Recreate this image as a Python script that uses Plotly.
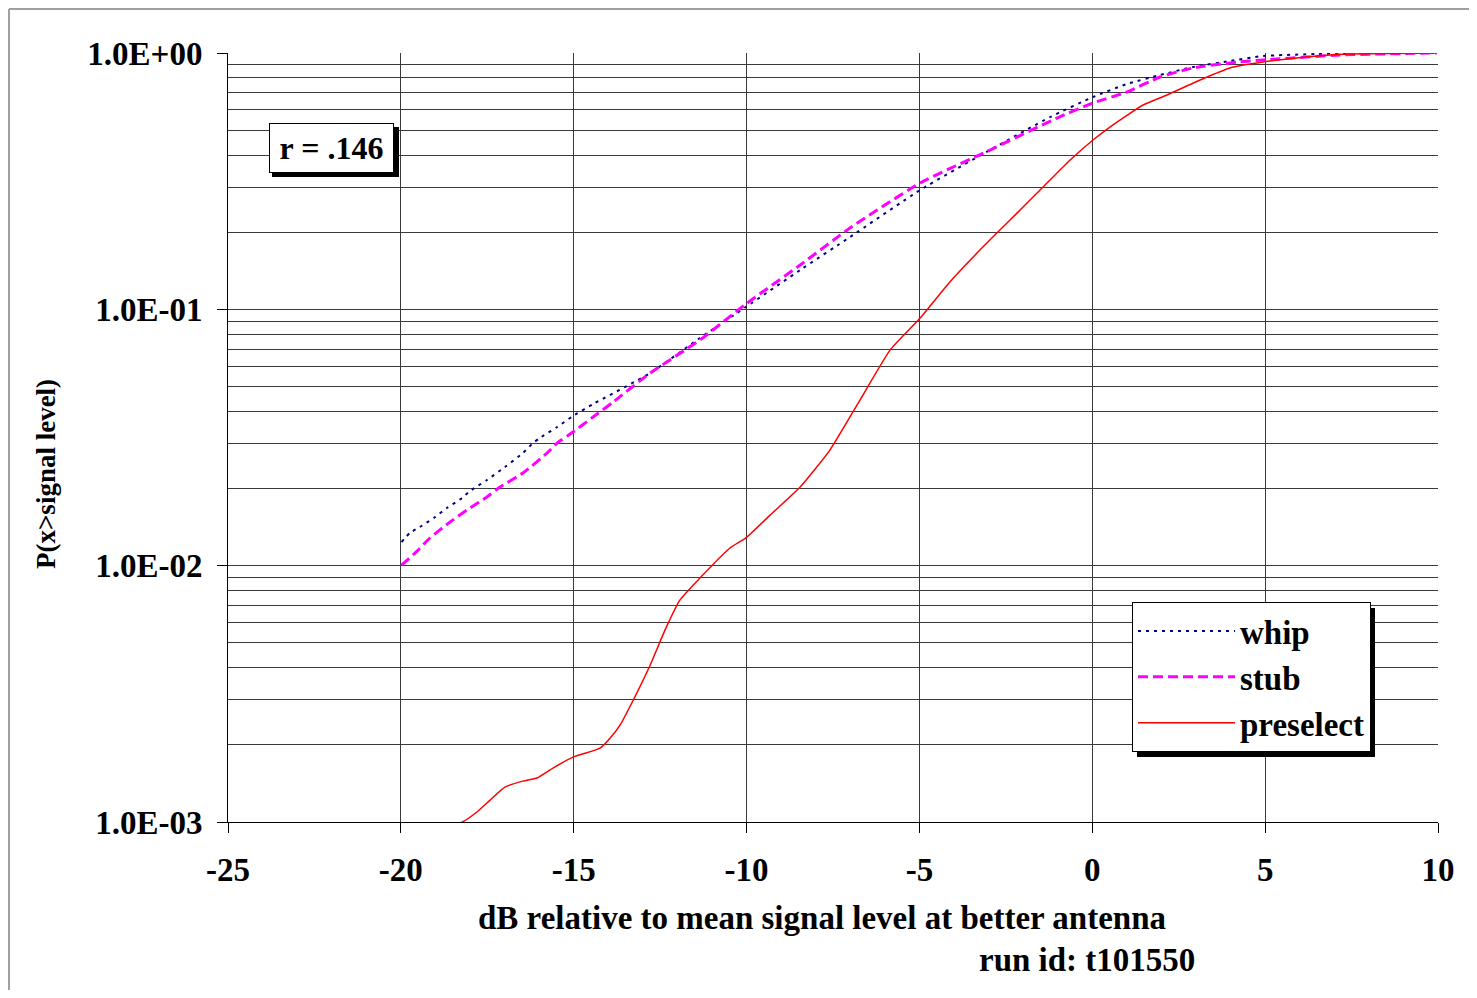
import plotly.graph_objects as go

# ---- data ----
whip_x = [-19.98, -19.74, -19.45, -19.01, -18.67, -18.23, -18.00, -17.51, -16.99, -16.47,
          -16.18, -15.98, -15.48, -15.02, -14.44, -12.79, -11.35, -10.02, -8.45, -7.01,
          -4.98, -2.96, -1.22, 0.02, 1.00, 1.96, 2.91, 3.98, 4.94, 6.50, 7.45, 10.0]
whip_y = [0.01236, 0.01341, 0.01415, 0.01548, 0.01678, 0.01836, 0.01955, 0.02159, 0.02425, 0.02750,
          0.03008, 0.03148, 0.03474, 0.03836, 0.04270, 0.0564, 0.0773, 0.1021, 0.1423, 0.1914,
          0.2920, 0.4183, 0.5625, 0.6734, 0.7569, 0.8207, 0.8817, 0.9307, 0.9734, 0.991, 1.0, 1.0]

stub_x = [-19.98, -19.53, -19.16, -18.58, -18.09, -17.51, -17.13, -16.47, -15.77, -15.48,
          -15.02, -14.44, -13.86, -12.79, -11.35, -10.02, -8.45, -7.01, -4.98, -2.96,
          -1.02, 0.02, 1.00, 1.96, 2.91, 4.19, 4.94, 7.17, 9.97]
stub_y = [0.01005, 0.01140, 0.01282, 0.01479, 0.01648, 0.01853, 0.02027, 0.02297, 0.02750, 0.03008,
          0.03321, 0.03800, 0.04350, 0.0564, 0.0759, 0.1049, 0.1489, 0.2075, 0.3111, 0.4183,
          0.5577, 0.6381, 0.7043, 0.806, 0.874, 0.922, 0.939, 0.982, 1.0]

pre_x = [-18.93, -18.67, -18.23, -17.80, -17.42, -16.99, -16.47, -16.06, -15.60, -15.02,
         -14.24, -13.95, -13.66, -13.28, -12.79, -12.36, -11.93, -11.35, -10.48, -10.02,
         -9.32, -8.45, -7.59, -6.72, -5.85, -4.98, -4.12, -3.25, -2.38, -1.51,
         -0.64, 0.02, 0.51, 1.47, 2.16, 3.12, 3.98, 4.94, 6.50, 7.45, 9.97]
pre_y = [0.000914, 0.000964, 0.000999, 0.001094, 0.001217, 0.001367, 0.001444, 0.001484, 0.001623, 0.001791,
         0.001942, 0.002124, 0.002388, 0.002986, 0.004089, 0.005606, 0.007339, 0.008946, 0.01172, 0.01283,
         0.01575, 0.02027, 0.02825, 0.04426, 0.06935, 0.09247, 0.1278, 0.1703, 0.2230, 0.2920,
         0.3824, 0.4576, 0.5143, 0.6267, 0.6858, 0.7847, 0.874, 0.922, 0.973, 0.991, 1.0]

x_ticks = [-25, -20, -15, -10, -5, 0, 5, 10]
y_ticks = [0.001, 0.01, 0.1, 1.0]
y_tick_text = ["1.0E-03", "1.0E-02", "1.0E-01", "1.0E+00"]
y_minor = [m * 10 ** e for e in (-3, -2, -1) for m in range(2, 10)]

FONT = "Liberation Serif"
GRID = "#3a3a3a"

# page has an 8px body margin: plot area spans page px x 228..1438, y 53..822
def px(xp):
    return (xp - 228) / 1210


def py(yp):
    return (822 - yp) / 769


fig = go.Figure()
fig.add_trace(go.Scatter(x=whip_x, y=whip_y, mode="lines", name="whip",
                         line=dict(color="#000080", width=2, dash="3px,5px", shape="spline", smoothing=0.5)))
fig.add_trace(go.Scatter(x=stub_x, y=stub_y, mode="lines", name="stub",
                         line=dict(color="#FF00FF", width=3, dash="10px,5px", shape="spline", smoothing=0.5)))
fig.add_trace(go.Scatter(x=pre_x, y=pre_y, mode="lines", name="preselect",
                         line=dict(color="#FF0000", width=1.5, shape="spline", smoothing=0.5)))

fig.update_layout(
    width=1461, height=982,
    margin=dict(l=220, r=31, t=45, b=168),
    paper_bgcolor="white", plot_bgcolor="white",
    font=dict(family=FONT, size=33, color="black"),
    showlegend=True,
    legend=dict(x=px(1132), y=py(602), xanchor="left", yanchor="top",
                bgcolor="white", bordercolor="black", borderwidth=1,
                font=dict(family=FONT, size=33, color="black", weight="bold"),
                itemwidth=97, traceorder="normal"),
    xaxis=dict(range=[-25, 10], tickvals=x_ticks, ticktext=[str(v) for v in x_ticks],
               showgrid=True, gridcolor=GRID, gridwidth=1,
               showline=True, linecolor="black", linewidth=1,
               ticks="outside", ticklen=10, tickcolor="black",
               tickfont=dict(family=FONT, size=33, weight="bold"),
               ticklabelstandoff=8, zeroline=False),
    yaxis=dict(type="log", range=[-3, 0], tickvals=y_ticks, ticktext=y_tick_text,
               showgrid=True, gridcolor=GRID, gridwidth=1,
               showline=True, linecolor="black", linewidth=1,
               ticks="outside", ticklen=10, tickcolor="black",
               tickfont=dict(family=FONT, size=33, weight="bold"),
               ticklabelstandoff=8,
               minor=dict(tickvals=y_minor, showgrid=True, gridcolor=GRID, gridwidth=1, ticks="")),
)

# shadows for the text box and legend, outer frame lines
fig.add_shape(type="rect", xref="paper", yref="paper", x0=px(272), x1=px(399), y0=py(177), y1=py(127),
              fillcolor="black", line=dict(width=0), layer="above")
fig.add_shape(type="rect", xref="paper", yref="paper", x0=px(1137), x1=px(1375), y0=py(757), y1=py(608),
              fillcolor="black", line=dict(width=0), layer="above")
fig.add_shape(type="line", xref="paper", yref="paper", x0=px(9), x1=px(1470),
              y0=py(9), y1=py(9), line=dict(color="#a0a0a0", width=2))
fig.add_shape(type="line", xref="paper", yref="paper", x0=px(9), x1=px(9),
              y0=py(9), y1=py(990), line=dict(color="#a0a0a0", width=2))

fig.add_annotation(text="<b>r = .146</b>", xref="paper", yref="paper", x=px(331.5), y=py(148),
                   xanchor="center", yanchor="middle",
                   showarrow=False, font=dict(family=FONT, size=32, color="black"),
                   bgcolor="white", bordercolor="black", borderwidth=1, borderpad=4,
                   width=115, height=40)
fig.add_annotation(text="<b>dB relative to mean signal level at better antenna</b>", xref="paper", yref="paper",
                   x=px(822), y=py(918), xanchor="center", yanchor="middle",
                   showarrow=False, font=dict(family=FONT, size=33, color="black"))
fig.add_annotation(text="<b>run id: t101550</b>", xref="paper", yref="paper",
                   x=px(1086.5), y=py(960), xanchor="center", yanchor="middle",
                   showarrow=False, font=dict(family=FONT, size=33, color="black"))
fig.add_annotation(text="<b>P(x>signal level)</b>", xref="paper", yref="paper", textangle=-90,
                   x=px(46), y=py(474), xanchor="center", yanchor="middle",
                   showarrow=False, font=dict(family=FONT, size=27, color="black"))

fig.write_html("out.html")
